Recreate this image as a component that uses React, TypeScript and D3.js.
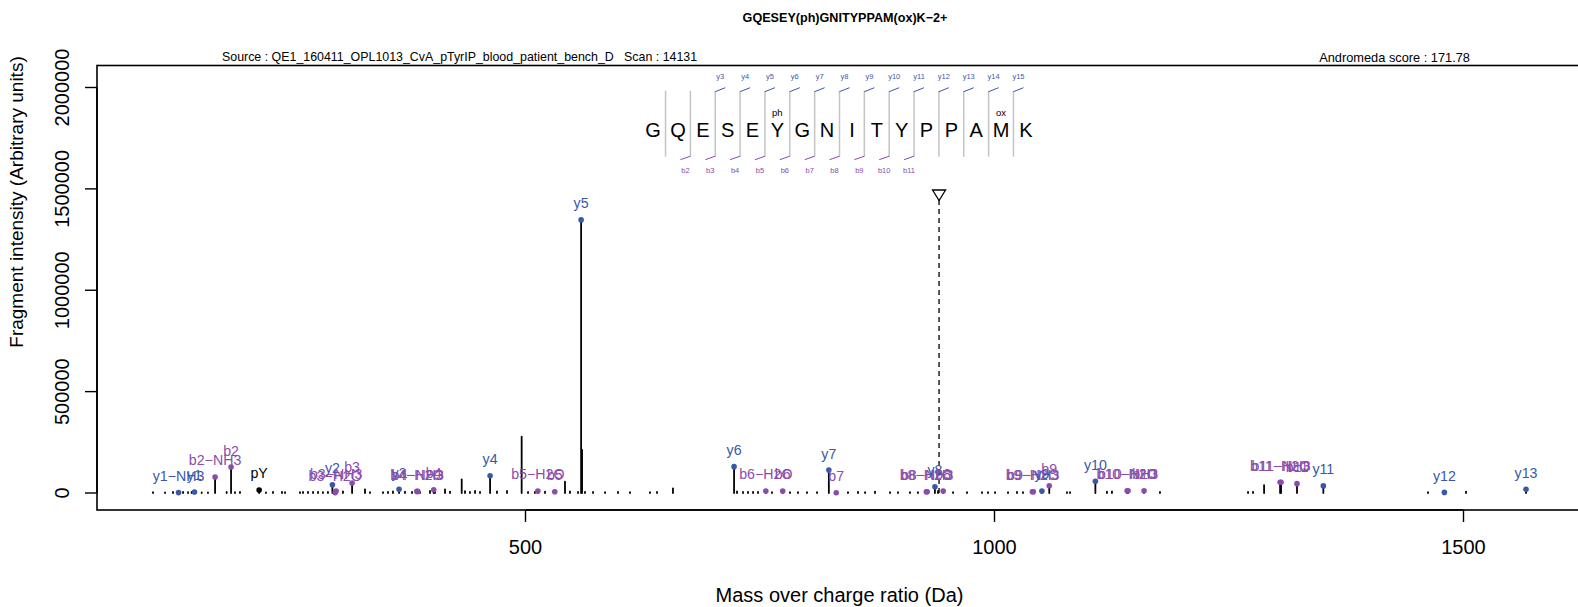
import React from "react";
import * as d3 from "d3";

// ---------- text ----------
const titleText = "GQESEY(ph)GNITYPPAM(ox)K\u22122+";
const sourceText = "Source : QE1_160411_OPL1013_CvA_pTyrIP_blood_patient_bench_D   Scan : 14131";
const scoreText = "Andromeda score : 171.78";
const xLabel = "Mass over charge ratio (Da)";
const yLabel = "Fragment intensity (Arbitrary units)";
const xTicks = [500, 1000, 1500];
const yTicks = [0, 500000, 1000000, 1500000, 2000000];

// ---------- annotated fragment ions ----------
const ionLabels = [
  "y1\u2212NH3", "y1", "b2\u2212NH3", "b2", "pY", "y2", "b3\u2212H2O", "b3\u2212NH3", "b3", "y3",
  "b4\u2212H2O", "b4\u2212NH3", "b4", "y4", "b5\u2212H2O", "b5", "y5", "y6", "b6\u2212H2O", "b6",
  "y7", "b7", "b8\u2212H2O", "b8\u2212NH3", "y8", "b8", "b9\u2212H2O", "b9\u2212NH3", "y9", "b9",
  "y10", "b10\u2212H2O", "b10\u2212NH3", "b10", "b11\u2212H2O", "b11\u2212NH3", "b11", "y11", "y12", "y13",
];
const ionMz = [
  130.09, 147.11, 169.06, 186.09, 216.04, 294.15, 297.12, 298.10, 315.13, 365.19,
  384.15, 385.14, 402.16, 462.24, 513.19, 531.21, 559.29, 722.35, 756.22, 774.23,
  823.40, 831.26, 927.29, 928.27, 936.49, 945.30, 1040.37, 1041.36, 1050.53, 1058.38,
  1107.55, 1141.42, 1142.40, 1159.43, 1304.48, 1305.47, 1322.49, 1350.58, 1479.62, 1566.65,
];
const ionIntensity = [
  2000, 5000, 79000, 128000, 15000, 41000, 2000, 10000, 49000, 18000,
  8000, 8000, 16000, 85000, 10000, 6000, 1347000, 130000, 10000, 10000,
  113000, 1500, 6000, 6000, 31000, 10000, 6000, 6000, 10000, 36000,
  58000, 11000, 11000, 11000, 53000, 53000, 46000, 35000, 3000, 18000,
];
const ionSeries = [
  "y", "y", "b", "b", "i", "y", "b", "b", "b", "y",
  "b", "b", "b", "y", "b", "b", "y", "y", "b", "b",
  "y", "b", "b", "b", "y", "b", "b", "b", "y", "b",
  "y", "b", "b", "b", "b", "b", "b", "y", "y", "y",
];

// ---------- unannotated peaks ----------
const otherMz = [
  102.9, 115.7, 124.2, 134.9, 140.2, 144.1, 154.8, 161.5, 181.4, 190.3,
  195.6, 223.3, 230.8, 240.4, 243.6, 259.6, 262.8, 268.1, 273.5, 278.8,
  284.1, 289.4, 305.4, 328.9, 334.2, 348.1, 353.4, 358.7, 371.5, 379.0,
  387.5, 398.2, 403.5, 414.2, 419.5, 432.0, 435.5, 440.8, 446.2, 451.5,
  469.6, 480.3, 495.9, 502.7, 510.1, 520.8, 542.1, 547.4, 556.0, 560.29,
  563.4, 572.0, 584.8, 598.6, 611.4, 632.7, 640.2, 657.2, 725.5, 731.9,
  737.2, 742.6, 747.9, 762.8, 782.0, 790.5, 800.1, 810.8, 843.8, 854.5,
  862.0, 872.6, 888.6, 897.1, 909.9, 918.4, 939.8, 955.8, 970.7, 986.7,
  993.1, 1000.6, 1014.4, 1024.0, 1030.4, 1077.3, 1080.5, 1119.9, 1125.2, 1176.4,
  1270.3, 1275.6, 1287.4, 1462.2, 1502.7,
];
const otherIntensity = [
  4000, 3000, 5000, 6000, 4000, 5000, 3000, 3000, 5000, 4000,
  6000, 3000, 5000, 6000, 4000, 4000, 5000, 6000, 6000, 5000,
  4000, 6000, 8000, 18000, 4000, 4000, 6000, 8000, 7000, 5000,
  4000, 10000, 6000, 18000, 7000, 67000, 9000, 6000, 10000, 6000,
  8000, 10000, 278000, 5000, 6000, 7000, 56000, 8000, 6000, 212000,
  6000, 5000, 4000, 5000, 4000, 4000, 5000, 23000, 8000, 5000,
  6000, 6000, 5000, 4000, 4000, 4000, 4000, 4000, 4000, 6000,
  4000, 7000, 4000, 4000, 4000, 4000, 10000, 4000, 4000, 4000,
  4000, 4000, 4000, 6000, 4000, 4000, 4000, 7000, 8000, 5000,
  5000, 6000, 39000, 4000, 7000,
];

const precursorMz = 940.89;

// ---------- peptide diagram ----------
const sequence = ["G", "Q", "E", "S", "E", "Y", "G", "N", "I", "T", "Y", "P", "P", "A", "M", "K"];
const modifications = ["", "", "", "", "", "ph", "", "", "", "", "", "", "", "", "ox", ""];
const yMarkLabels = ["y3", "y4", "y5", "y6", "y7", "y8", "y9", "y10", "y11", "y12", "y13", "y14", "y15"];
const yMarkSeparators = [3, 4, 5, 6, 7, 8, 9, 10, 11, 12, 13, 14, 15];
const bMarkLabels = ["b2", "b3", "b4", "b5", "b6", "b7", "b8", "b9", "b10", "b11"];
const bMarkSeparators = [2, 3, 4, 5, 6, 7, 8, 9, 10, 11];

const BLUE = "#3a58a8";
const PURPLE = "#8a4dab";
const FONT = "'Liberation Sans', Arial, Helvetica, sans-serif";

export default function App() {
  const W = 1578;
  const H = 607;
  const plot = { left: 97, right: 1582, top: 65.5, bottom: 510 };
  const x = d3.scaleLinear().domain([500, 1500]).range([525.5, 1463.5]);
  const y = d3.scaleLinear().domain([0, 2000000]).range([493, 87.5]);
  const colorOf = (s: string) => (s === "y" ? BLUE : s === "b" ? PURPLE : "#000");

  const peaks = [
    ...otherMz.map((m, i) => ({ mz: m, it: otherIntensity[i] })),
    ...ionMz.map((m, i) => ({ mz: m, it: ionIntensity[i] })),
  ];

  // peptide geometry
  const pepCenter = 839.5;
  const step = 24.85;
  const letterX = (i: number) => pepCenter + (i - 7.5) * step;
  const sepX = (s: number) => pepCenter + (s - 8) * step;
  const sepTop = 90.7;
  const sepBottom = 156.7;

  const px = x(precursorMz);

  return (
    <svg
      width={W}
      height={H}
      style={{ position: "absolute", left: 0, top: 0, background: "#fff" }}
      fontFamily={FONT}
    >
      <rect x={0} y={0} width={W} height={H} fill="#fff" />
      {/* title */}
      <text x={845} y={18} textAnchor="middle" dominantBaseline="central" fontSize={12.6} fontWeight="bold">
        {titleText}
      </text>
      <text x={222} y={57} dominantBaseline="central" fontSize={12.4} style={{ whiteSpace: "pre" }}>
        {sourceText}
      </text>
      <text x={1470} y={57} textAnchor="end" dominantBaseline="central" fontSize={12.8}>
        {scoreText}
      </text>

      {/* box */}
      <rect
        x={plot.left}
        y={plot.top}
        width={plot.right - plot.left}
        height={plot.bottom - plot.top}
        fill="none"
        stroke="#000"
        strokeWidth={1.6}
      />

      {/* x axis */}
      <line x1={x(xTicks[0])} x2={x(xTicks[xTicks.length - 1])} y1={plot.bottom} y2={plot.bottom} stroke="#000" strokeWidth={1.6} />
      {xTicks.map((t) => (
        <g key={"xt" + t}>
          <line x1={x(t)} x2={x(t)} y1={plot.bottom} y2={plot.bottom + 12} stroke="#000" strokeWidth={1.4} />
          <text x={x(t)} y={547} textAnchor="middle" dominantBaseline="central" fontSize={20}>
            {t}
          </text>
        </g>
      ))}
      <text x={839.5} y={595} textAnchor="middle" dominantBaseline="central" fontSize={20}>
        {xLabel}
      </text>

      {/* y axis */}
      <line x1={plot.left} x2={plot.left} y1={y(yTicks[0])} y2={y(yTicks[yTicks.length - 1])} stroke="#000" strokeWidth={1.6} />
      {yTicks.map((t) => (
        <g key={"yt" + t}>
          <line x1={plot.left - 12} x2={plot.left} y1={y(t)} y2={y(t)} stroke="#000" strokeWidth={1.4} />
          <text
            transform={`translate(${62},${y(t)}) rotate(-90)`}
            textAnchor="middle"
            dominantBaseline="central"
            fontSize={20}
          >
            {t}
          </text>
        </g>
      ))}
      <text
        transform={`translate(${16},${202}) rotate(-90)`}
        textAnchor="middle"
        dominantBaseline="central"
        fontSize={19}
      >
        {yLabel}
      </text>

      {/* peptide diagram */}
      {sequence.map((aa, i) => (
        <text key={"aa" + i} x={letterX(i)} y={130} textAnchor="middle" dominantBaseline="central" fontSize={20}>
          {aa}
        </text>
      ))}
      {modifications.map((m, i) =>
        m ? (
          <text key={"mod" + i} x={letterX(i)} y={112.7} textAnchor="middle" dominantBaseline="central" fontSize={9.5}>
            {m}
          </text>
        ) : null
      )}
      {d3.range(1, sequence.length).map((s) => (
        <line key={"sep" + s} x1={sepX(s)} x2={sepX(s)} y1={sepTop} y2={sepBottom} stroke="#c4c4c4" strokeWidth={1.5} />
      ))}
      {yMarkSeparators.map((s, i) => (
        <g key={"ym" + s}>
          <line x1={sepX(s)} y1={sepTop + 1} x2={sepX(s) + 10} y2={sepTop - 3} stroke={BLUE} strokeWidth={1} />
          <text x={sepX(s) + 5} y={76} textAnchor="middle" dominantBaseline="central" fontSize={7.5} fill={BLUE}>
            {yMarkLabels[i]}
          </text>
        </g>
      ))}
      {bMarkSeparators.map((s, i) => (
        <g key={"bm" + s}>
          <line x1={sepX(s)} y1={sepBottom - 0.5} x2={sepX(s) - 10} y2={sepBottom + 3} stroke={PURPLE} strokeWidth={1} />
          <text x={sepX(s) - 5} y={170} textAnchor="middle" dominantBaseline="central" fontSize={7.5} fill={PURPLE}>
            {bMarkLabels[i]}
          </text>
        </g>
      ))}

      {/* precursor */}
      <line x1={px} x2={px} y1={200} y2={y(0)} stroke="#000" strokeWidth={1.3} strokeDasharray="5,4" />
      <path d={`M${px - 6.5},190 L${px + 6.5},190 L${px},200.5 Z`} fill="none" stroke="#000" strokeWidth={1.3} />

      {/* peaks */}
      {peaks.map((p, i) => (
        <line
          key={"pk" + i}
          x1={x(p.mz)}
          x2={x(p.mz)}
          y1={y(0)}
          y2={y(p.it)}
          stroke="#000"
          strokeWidth={1.8}
          strokeLinecap="round"
        />
      ))}
      {ionMz.map((m, i) => (
        <circle key={"dot" + i} cx={x(m)} cy={y(ionIntensity[i])} r={2.8} fill={colorOf(ionSeries[i])} />
      ))}
      {ionMz.map((m, i) => (
        <text
          key={"lab" + i}
          x={x(m)}
          y={y(ionIntensity[i]) - 16.5}
          textAnchor="middle"
          dominantBaseline="central"
          fontSize={14.2}
          fill={colorOf(ionSeries[i])}
        >
          {ionLabels[i]}
        </text>
      ))}
    </svg>
  );
}
